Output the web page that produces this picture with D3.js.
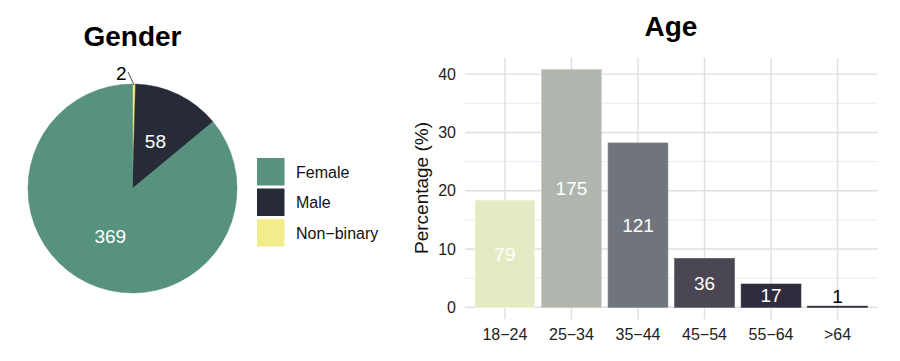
<!DOCTYPE html>
<html lang="en">
<head>
  <meta charset="utf-8">
  <script src="https://cdn.jsdelivr.net/npm/d3@7"></script>
</head>
<style>
  body{margin:0;background:#fff;font-family:"Liberation Sans",Arial,Helvetica,sans-serif;}
</style>
<body>
  <svg id="chart" width="900" height="361"></svg>
  <script type="text/javascript">
    // Gender pie data
    var genders=["Non-binary","Male","Female"];
    var genderCounts=[2,58,369];
    var genderColors=["#f2ec8a","#272b38","#56927e"];
    var legendOrder=["Female","Male","Non-binary"];

    // Age bar data
    var ages=["18−24","25−34","35−44","45−54","55−64",">64"];
    var ageCounts=[79,175,121,36,17,1];
    var agePct=[18.4,40.8,28.2,8.4,4.0,0.2];
    var ageColors=["#e3ebc3","#b0b5ad","#70747c","#4a4753","#302c3d","#26222e"];
    var yTicks=[0,10,20,30,40];
    var yMinor=[5,15,25,35];

    var svg=d3.select("#chart");

    //Pie
    var cx=132.5,cy=188.5,r=104.5;
    var g=svg.append("g").attr("transform","translate("+cx+","+cy+")");

    var pie=d3.pie().sort(null).value(function(d){return d.n;});
    var arcs=pie(genders.map(function(d,i){return {name:d,n:genderCounts[i],color:genderColors[i]};}));
    var arc=d3.arc().innerRadius(0).outerRadius(r);
    var labelArc=d3.arc().innerRadius(r*0.5).outerRadius(r*0.5);

    g.selectAll("path")
      .data(arcs)
      .enter()
      .append("path")
      .attr("d",arc)
      .attr("fill",function(d){return d.data.color;})
      .attr("stroke",function(d){return d3.color(d.data.color).darker(0.3);})
      .attr("stroke-width",0.5);

    g.selectAll("text.lab")
      .data(arcs.filter(function(d){return d.data.n>10;}))
      .enter()
      .append("text")
      .attr("class","lab")
      .attr("transform",function(d){return "translate("+labelArc.centroid(d)+")";})
      .attr("text-anchor","middle")
      .attr("dy","0.36em")
      .attr("fill","white")
      .style("font-size","19px")
      .text(function(d){return d.data.n;});

    // small slice gets a leader line
    arcs.filter(function(d){return d.data.n<=10;}).forEach(function(d){
      var a=(d.startAngle+d.endAngle)/2;
      var p1=[Math.sin(a)*(r-1),-Math.cos(a)*(r-1)];
      var p2=[p1[0]-6,p1[1]-13];
      g.append("line")
        .attr("x1",p1[0]).attr("y1",p1[1])
        .attr("x2",p2[0]).attr("y2",p2[1])
        .attr("stroke","#222").attr("stroke-width",0.8);
      g.append("text")
        .attr("x",p2[0]-1.5).attr("y",p2[1]+7.5)
        .attr("text-anchor","end")
        .attr("fill","black")
        .style("font-size","19px")
        .text(d.data.n);
    });

    svg.append("text")
      .attr("x",cx).attr("y",46)
      .attr("text-anchor","middle")
      .style("font-size","28px")
      .style("font-weight","bold")
      .text("Gender");

    //Legend
    var leg=svg.append("g").attr("transform","translate(257,158)");
    var legItem=leg.selectAll("g")
      .data(legendOrder)
      .enter()
      .append("g")
      .attr("transform",function(d,i){return "translate(0,"+(i*30.5)+")";});
    legItem.append("rect")
      .attr("width",27.5).attr("height",27.5)
      .attr("fill",function(d){return genderColors[genders.indexOf(d)];});
    legItem.append("text")
      .attr("x",39).attr("y",14)
      .attr("dy","0.36em")
      .style("font-size","16px")
      .attr("fill","#111")
      .text(function(d){return d.replace("-","−");});

    //Bars
    var x=d3.scaleBand()
      .domain(ages)
      .range([465,877.5])
      .paddingInner(0.1)
      .paddingOuter(0.15);
    var y=d3.scaleLinear()
      .domain([-2.04,42.84])
      .range([319.2,57.6]);

    var grid=svg.append("g");
    grid.selectAll("line.minor")
      .data(yMinor)
      .enter()
      .append("line")
      .attr("x1",465).attr("x2",877.5)
      .attr("y1",function(d){return y(d);}).attr("y2",function(d){return y(d);})
      .attr("stroke","#ebebeb").attr("stroke-width",1);
    grid.selectAll("line.major")
      .data(yTicks)
      .enter()
      .append("line")
      .attr("x1",465).attr("x2",877.5)
      .attr("y1",function(d){return y(d);}).attr("y2",function(d){return y(d);})
      .attr("stroke","#dfdfdf").attr("stroke-width",1.4);
    grid.selectAll("line.vert")
      .data(ages)
      .enter()
      .append("line")
      .attr("y1",57.6).attr("y2",319.2)
      .attr("x1",function(d){return x(d)+x.bandwidth()/2;})
      .attr("x2",function(d){return x(d)+x.bandwidth()/2;})
      .attr("stroke","#dfdfdf").attr("stroke-width",1.4);

    svg.selectAll("rect.bar")
      .data(ages)
      .enter()
      .append("rect")
      .attr("class","bar")
      .attr("x",function(d){return x(d);})
      .attr("width",x.bandwidth())
      .attr("y",function(d,i){return y(agePct[i]);})
      .attr("height",function(d,i){return y(0)-y(agePct[i]);})
      .attr("fill",function(d,i){return ageColors[i];})
      .attr("stroke",function(d,i){return d3.color(ageColors[i]).brighter(0.4);})
      .attr("stroke-width",0.6);

    svg.selectAll("text.barlab")
      .data(ages)
      .enter()
      .append("text")
      .attr("class","barlab")
      .attr("x",function(d){return x(d)+x.bandwidth()/2;})
      .attr("y",function(d,i){return y(Math.max(agePct[i]/2,1.9));})
      .attr("dy","0.36em")
      .attr("text-anchor","middle")
      .attr("fill",function(d,i){return agePct[i]<1?"black":"white";})
      .style("font-size","19px")
      .text(function(d,i){return ageCounts[i];});

    var yAxis=svg.append("g")
      .attr("transform","translate(465,0)")
      .call(d3.axisLeft(y).tickValues(yTicks).tickSize(0).tickPadding(9));
    yAxis.select(".domain").remove();
    yAxis.selectAll("text")
      .style("font-size","16px")
      .style("font-family","Liberation Sans, Arial, sans-serif")
      .attr("fill","#222");

    var xAxis=svg.append("g")
      .attr("transform","translate(0,319.2)")
      .call(d3.axisBottom(x).tickSize(0).tickPadding(9));
    xAxis.select(".domain").remove();
    xAxis.selectAll("text")
      .style("font-size","16px")
      .style("font-family","Liberation Sans, Arial, sans-serif")
      .attr("fill","#222");

    svg.append("text")
      .attr("transform","translate(428,188) rotate(-90)")
      .attr("text-anchor","middle")
      .style("font-size","19px")
      .attr("fill","#111")
      .text("Percentage (%)");

    svg.append("text")
      .attr("x",671).attr("y",36)
      .attr("text-anchor","middle")
      .style("font-size","28px")
      .style("font-weight","bold")
      .text("Age");
  </script>
</body>
</html>
